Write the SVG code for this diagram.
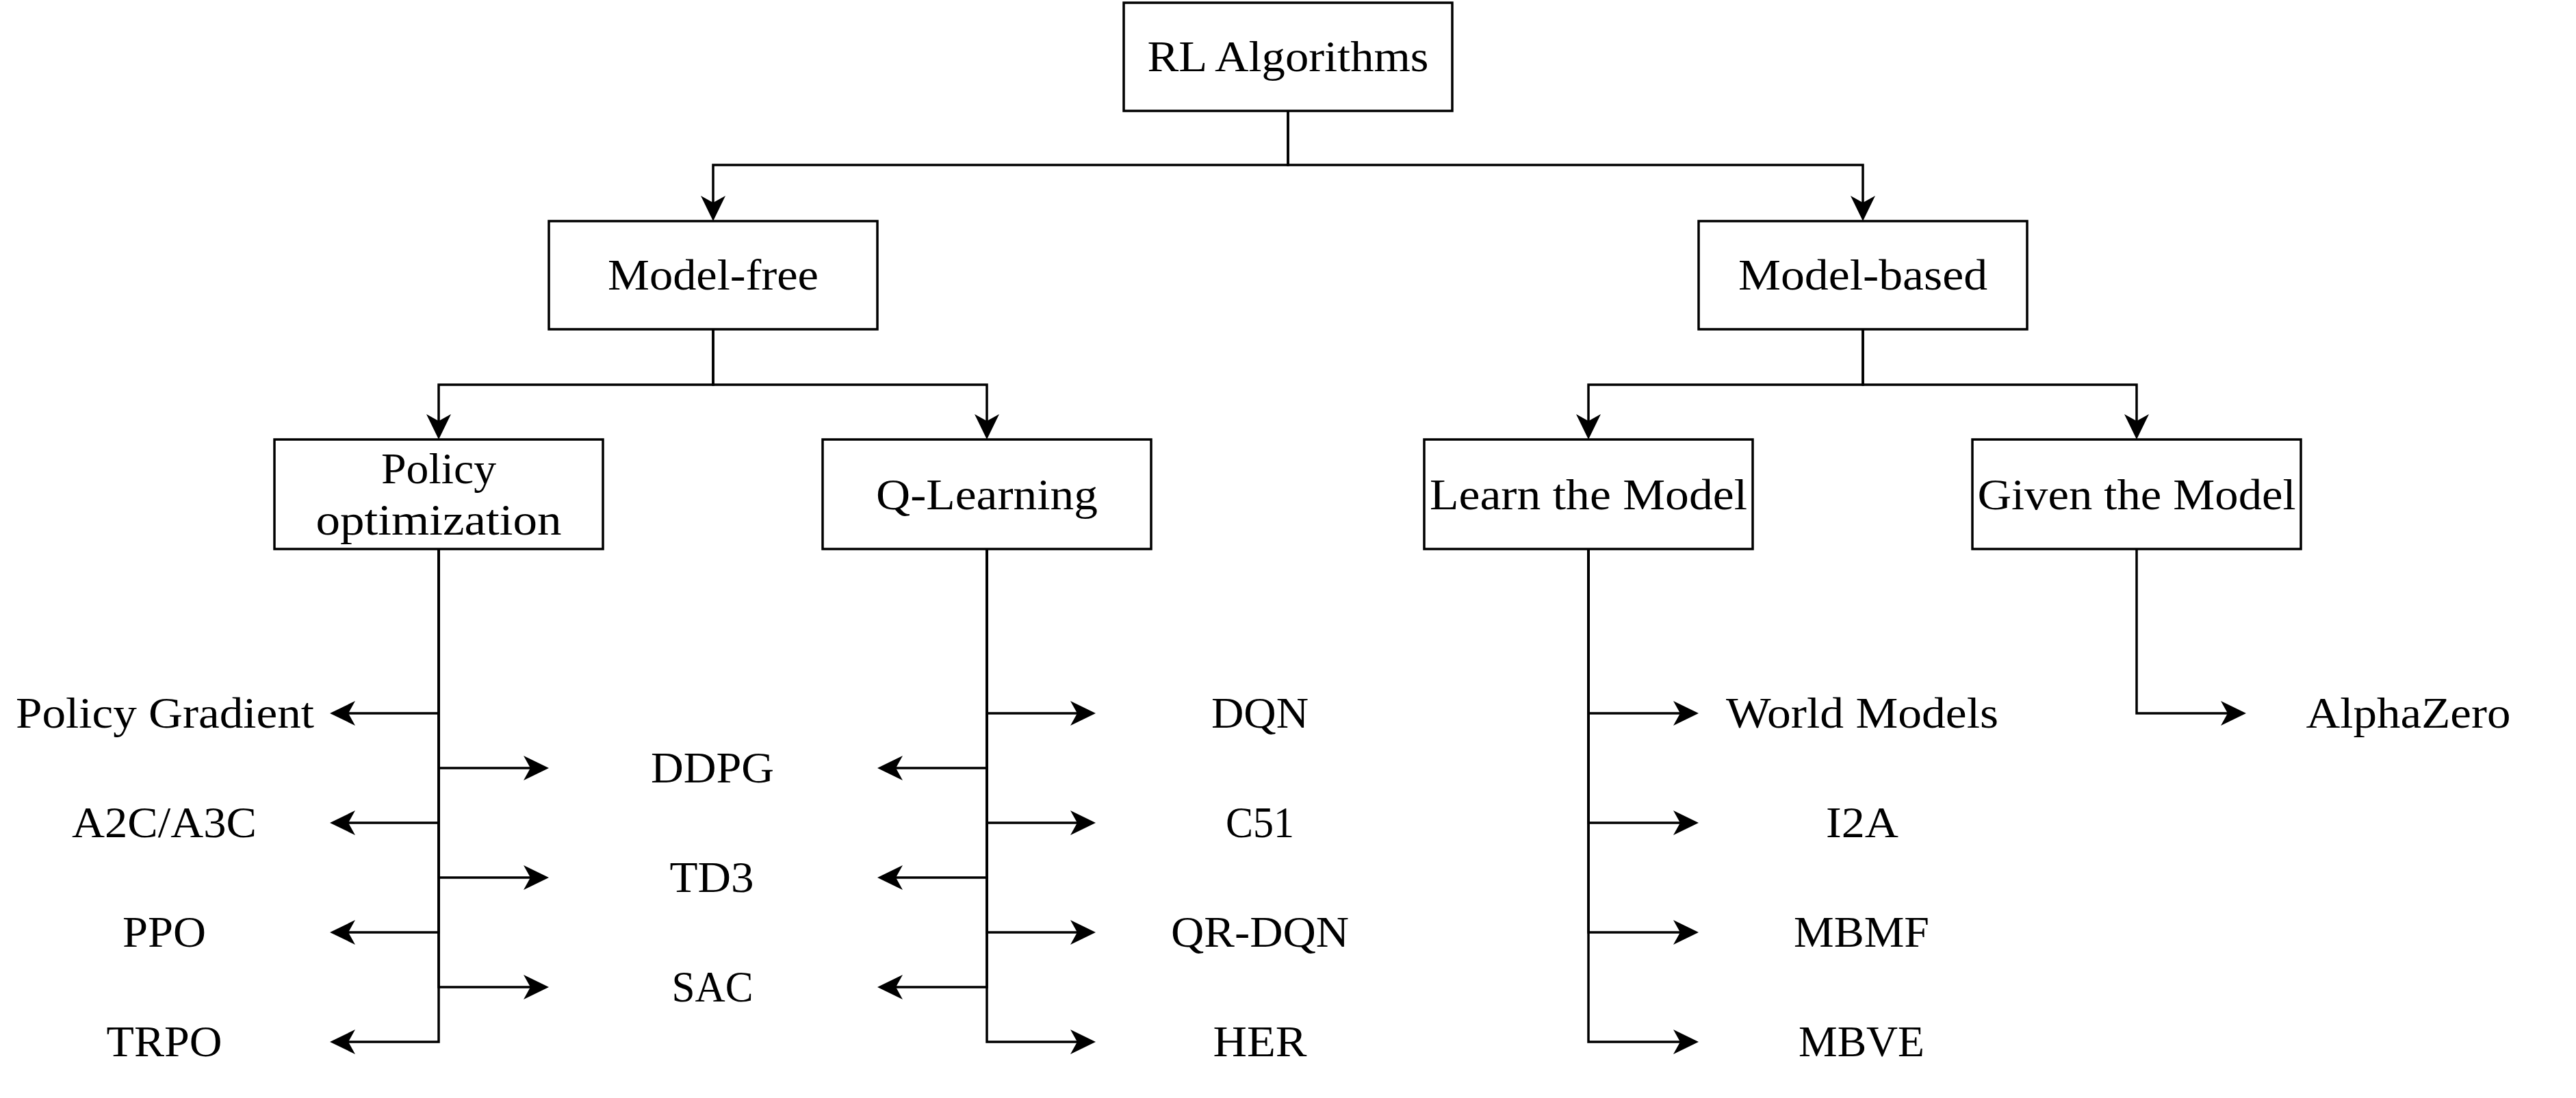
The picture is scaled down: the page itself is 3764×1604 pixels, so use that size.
<svg xmlns="http://www.w3.org/2000/svg" width="3764" height="1604" viewBox="0 0 3764 1604">
<style>
.bg{fill:#fff}
.box{fill:#fff;stroke:#000;stroke-width:3.5}
.t{font-family:"Liberation Serif","Times New Roman",serif;font-size:64px;fill:#000;text-anchor:middle}
.e{fill:none;stroke:#000;stroke-width:3.5;stroke-linejoin:miter;marker-end:url(#ah)}
</style>
<defs>
<marker id="ah" markerUnits="userSpaceOnUse" viewBox="-14 -20 42 40" markerWidth="42" markerHeight="40" refX="0" refY="0" orient="auto" overflow="visible">
<path d="M25,0 L-12,-18 L-2,0 L-12,18 Z" fill="#000"/>
</marker>
</defs>
<rect class="bg" x="0" y="0" width="3764" height="1604"/>
<g id="connectors">
<path class="e" d="M1882,162 V241 H1042 V298"/>
<path class="e" d="M1882,162 V241 H2722 V298"/>
<path class="e" d="M1042,481 V562 H641 V617"/>
<path class="e" d="M1042,481 V562 H1442 V617"/>
<path class="e" d="M2722,481 V562 H2321 V617"/>
<path class="e" d="M2722,481 V562 H3122 V617"/>
<path class="e" d="M641,802 V1042 H507"/>
<path class="e" d="M641,802 V1122 H777"/>
<path class="e" d="M641,802 V1202 H507"/>
<path class="e" d="M641,802 V1282 H777"/>
<path class="e" d="M641,802 V1362 H507"/>
<path class="e" d="M641,802 V1442 H777"/>
<path class="e" d="M641,802 V1522 H507"/>
<path class="e" d="M1442,802 V1042 H1576"/>
<path class="e" d="M1442,802 V1122 H1307"/>
<path class="e" d="M1442,802 V1202 H1576"/>
<path class="e" d="M1442,802 V1282 H1307"/>
<path class="e" d="M1442,802 V1362 H1576"/>
<path class="e" d="M1442,802 V1442 H1307"/>
<path class="e" d="M1442,802 V1522 H1576"/>
<path class="e" d="M2321,802 V1042 H2457"/>
<path class="e" d="M2321,802 V1202 H2457"/>
<path class="e" d="M2321,802 V1362 H2457"/>
<path class="e" d="M2321,802 V1522 H2457"/>
<path class="e" d="M3122,802 V1042 H3257"/>
</g>
<g id="rl-algorithms"><rect class="box" x="1642" y="4" width="480" height="158"/><text class="t" x="1882" y="104" textLength="411" lengthAdjust="spacingAndGlyphs">RL Algorithms</text></g>
<g id="model-free"><rect class="box" x="802" y="323" width="480" height="158"/><text class="t" x="1042" y="423" textLength="308" lengthAdjust="spacingAndGlyphs">Model-free</text></g>
<g id="model-based"><rect class="box" x="2482" y="323" width="480" height="158"/><text class="t" x="2722" y="423" textLength="364" lengthAdjust="spacingAndGlyphs">Model-based</text></g>
<g id="policy-optimization"><rect class="box" x="401" y="642" width="480" height="160"/><text class="t" x="641" y="706" textLength="168" lengthAdjust="spacingAndGlyphs">Policy</text><text class="t" x="641" y="781" textLength="359" lengthAdjust="spacingAndGlyphs">optimization</text></g>
<g id="q-learning"><rect class="box" x="1202" y="642" width="480" height="160"/><text class="t" x="1442" y="744" textLength="324" lengthAdjust="spacingAndGlyphs">Q-Learning</text></g>
<g id="learn-the-model"><rect class="box" x="2081" y="642" width="480" height="160"/><text class="t" x="2321" y="744" textLength="464" lengthAdjust="spacingAndGlyphs">Learn the Model</text></g>
<g id="given-the-model"><rect class="box" x="2882" y="642" width="480" height="160"/><text class="t" x="3122" y="744" textLength="465" lengthAdjust="spacingAndGlyphs">Given the Model</text></g>
<g id="policy-gradient"><text class="t" x="241" y="1063" textLength="436" lengthAdjust="spacingAndGlyphs">Policy Gradient</text></g>
<g id="a2c-a3c"><text class="t" x="240" y="1223" textLength="270" lengthAdjust="spacingAndGlyphs">A2C/A3C</text></g>
<g id="ppo"><text class="t" x="240" y="1383" textLength="122" lengthAdjust="spacingAndGlyphs">PPO</text></g>
<g id="trpo"><text class="t" x="240" y="1543" textLength="169" lengthAdjust="spacingAndGlyphs">TRPO</text></g>
<g id="ddpg"><text class="t" x="1041" y="1143" textLength="180" lengthAdjust="spacingAndGlyphs">DDPG</text></g>
<g id="td3"><text class="t" x="1040" y="1303" textLength="123" lengthAdjust="spacingAndGlyphs">TD3</text></g>
<g id="sac"><text class="t" x="1041" y="1463" textLength="119" lengthAdjust="spacingAndGlyphs">SAC</text></g>
<g id="dqn"><text class="t" x="1841" y="1063" textLength="142" lengthAdjust="spacingAndGlyphs">DQN</text></g>
<g id="c51"><text class="t" x="1841" y="1223" textLength="100" lengthAdjust="spacingAndGlyphs">C51</text></g>
<g id="qr-dqn"><text class="t" x="1841" y="1383" textLength="260" lengthAdjust="spacingAndGlyphs">QR-DQN</text></g>
<g id="her"><text class="t" x="1841" y="1543" textLength="137" lengthAdjust="spacingAndGlyphs">HER</text></g>
<g id="world-models"><text class="t" x="2721" y="1063" textLength="398" lengthAdjust="spacingAndGlyphs">World Models</text></g>
<g id="i2a"><text class="t" x="2721" y="1223" textLength="106" lengthAdjust="spacingAndGlyphs">I2A</text></g>
<g id="mbmf"><text class="t" x="2720" y="1383" textLength="198" lengthAdjust="spacingAndGlyphs">MBMF</text></g>
<g id="mbve"><text class="t" x="2720" y="1543" textLength="184" lengthAdjust="spacingAndGlyphs">MBVE</text></g>
<g id="alphazero"><text class="t" x="3519" y="1063" textLength="299" lengthAdjust="spacingAndGlyphs">AlphaZero</text></g>
</svg>
